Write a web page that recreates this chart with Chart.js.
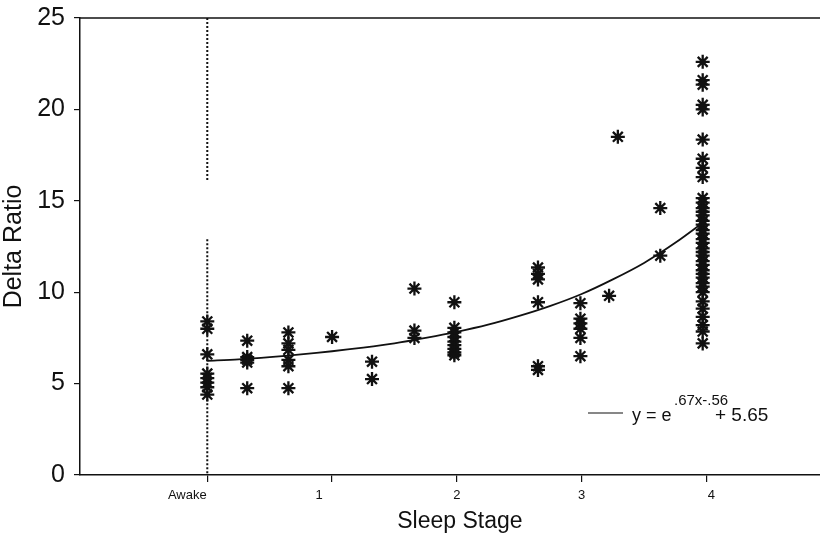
<!DOCTYPE html>
<html>
<head>
<meta charset="utf-8">
<script src="https://cdn.jsdelivr.net/npm/chart.js@4.4.0/dist/chart.umd.min.js"></script>
<style>
  html, body { margin: 0; padding: 0; background: #fff; }
  #wrap { width: 820px; height: 537px; }
</style>
</head>
<body>
<div id="wrap"><canvas id="chart" width="820" height="537"></canvas></div>
<script>
const stageTicks = [0, 1, 2, 3, 4];
const stageLabels = ["Awake", "1", "2", "3", "4"];

// sleep stage position of each column of marks, and the delta ratios in it
const columnX = [0, 0.32, 0.65, 1.0, 1.32, 1.66, 1.98, 2.65, 2.99, 3.22, 3.29, 3.63, 3.97];
const columnValues = [
  [8.4, 8.0, 6.6, 5.55, 5.3, 5.05, 4.8, 4.4],
  [7.35, 6.45, 6.3, 6.15, 4.75],
  [7.8, 7.2, 6.85, 6.3, 5.95, 4.75],
  [7.55],
  [6.2, 5.25],
  [10.2, 7.9, 7.5],
  [9.45, 8.05, 7.8, 7.55, 7.3, 7.1, 6.9, 6.7, 6.55],
  [11.35, 11.0, 10.7, 9.45, 5.95, 5.75],
  [9.4, 8.55, 8.3, 8.0, 7.5, 6.5],
  [9.8],
  [18.5],
  [14.6, 12.0],
  [22.6, 21.6, 21.35, 20.25, 20.0, 18.35, 17.3, 16.8, 16.3, 15.15, 14.9, 14.6, 14.4,
   14.2, 13.9, 13.7, 13.4, 13.2, 12.9, 12.7, 12.4, 12.2, 12.0, 11.7, 11.5, 11.2, 11.0,
   10.8, 10.5, 10.3, 10.0, 9.5, 9.1, 8.65, 8.2, 7.85, 7.2]
];

// fitted curve
const fitX = [0, 0.25, 0.5, 0.75, 1, 1.25, 1.5, 1.75, 2, 2.25, 2.5, 2.75, 3, 3.25, 3.5, 3.75, 4];
const fitY = [6.25, 6.33, 6.45, 6.6, 6.77, 6.97, 7.2, 7.5, 7.83, 8.22, 8.7, 9.25, 9.9, 10.7, 11.6, 12.7, 13.95];

// dotted marker line at Awake (with its gap)
const dashTop = [25, 16.1];
const dashBottom = [12.9, 0];

const ink = "#111";
const face = '"Liberation Sans", Arial, sans-serif';
// the printed stage labels sit a little off their tick marks
const labelNudge = [-20, -13, 0, 0, 5];

const points = [];
columnX.forEach((x, i) => columnValues[i].forEach(y => points.push({ x: x, y: y })));

const decor = {
  id: "decor",
  afterDraw(chart) {
    const { ctx, chartArea } = chart;
    const xs = chart.scales.x;
    ctx.save();
    ctx.strokeStyle = ink;
    ctx.lineWidth = 1.5;
    ctx.beginPath();
    ctx.moveTo(chartArea.left, chartArea.top);
    ctx.lineTo(chartArea.right, chartArea.top);
    ctx.stroke();

    // stage labels and axis title
    ctx.fillStyle = ink;
    ctx.textAlign = "center";
    ctx.textBaseline = "middle";
    ctx.font = "13px " + face;
    stageTicks.forEach((v, i) => {
      ctx.fillText(stageLabels[i], xs.getPixelForValue(v) + labelNudge[i], chartArea.bottom + 20);
    });
    ctx.font = "23px " + face;
    ctx.fillText("Sleep Stage", xs.getPixelForValue(2) + 3, chartArea.bottom + 47);

    // fit legend
    ctx.lineWidth = 1.2;
    ctx.beginPath();
    ctx.moveTo(588, 413);
    ctx.lineTo(623, 413);
    ctx.stroke();
    ctx.textAlign = "left";
    ctx.textBaseline = "alphabetic";
    ctx.font = "18px " + face;
    ctx.fillText("y = e", 632, 421);
    ctx.font = "15px " + face;
    ctx.fillText(".67x-.56", 674, 405);
    ctx.font = "19px " + face;
    ctx.fillText("+ 5.65", 715, 421);
    ctx.restore();
  }
};

new Chart(document.getElementById("chart"), {
  type: "scatter",
  data: {
    datasets: [
      {
        data: points,
        pointStyle: "star",
        pointRadius: 7,
        borderColor: ink,
        backgroundColor: ink,
        borderWidth: 2.3,
        showLine: false
      },
      {
        type: "line",
        data: fitX.map((x, i) => ({ x: x, y: fitY[i] })),
        borderColor: ink,
        borderWidth: 1.8,
        pointRadius: 0,
        tension: 0.3,
        fill: false
      },
      {
        type: "line",
        data: [
          { x: 0, y: dashTop[0] }, { x: 0, y: dashTop[1] }, { x: 0, y: null },
          { x: 0, y: dashBottom[0] }, { x: 0, y: dashBottom[1] }
        ],
        borderColor: ink,
        borderWidth: 2,
        borderDash: [2, 2],
        pointRadius: 0,
        spanGaps: false,
        fill: false
      }
    ]
  },
  options: {
    responsive: false,
    animation: false,
    devicePixelRatio: 1,
    layout: { autoPadding: false, padding: { top: 18, right: 0, left: 0, bottom: 0 } },
    plugins: { legend: { display: false }, tooltip: { enabled: false } },
    scales: {
      x: {
        type: "linear",
        min: -1.02,
        max: 4.91,
        border: { color: ink, width: 1.5 },
        grid: { drawOnChartArea: false, drawTicks: true, tickLength: 7, color: ink, lineWidth: 1.2 },
        afterBuildTicks: scale => { scale.ticks = stageTicks.map(v => ({ value: v })); },
        ticks: { display: false },
        afterFit: scale => { scale.height = 62; }
      },
      y: {
        min: 0,
        max: 25,
        border: { color: ink, width: 1.5 },
        grid: { drawOnChartArea: false, drawTicks: true, tickLength: 6, color: ink, lineWidth: 1.2 },
        ticks: {
          stepSize: 5,
          color: ink,
          padding: 9,
          font: { family: face, size: 25 }
        },
        title: {
          display: true,
          text: "Delta Ratio",
          color: ink,
          padding: 0,
          font: { family: face, size: 25, lineHeight: 1.1 }
        },
        afterFit: scale => {
          scale.width = 80;
          scale.paddingTop = 0;
          scale.paddingBottom = 0;
        }
      }
    }
  },
  plugins: [decor]
});
</script>
</body>
</html>
